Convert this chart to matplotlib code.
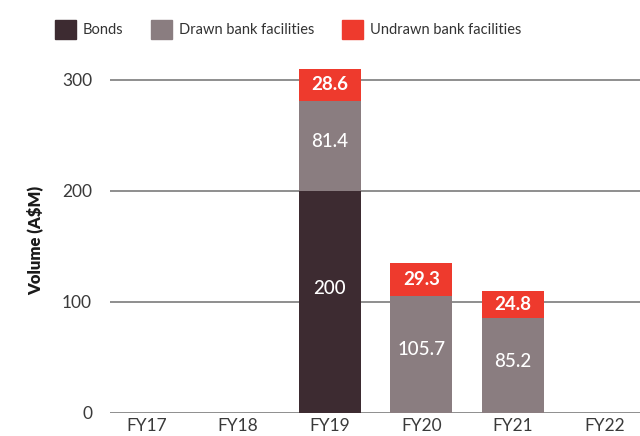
import matplotlib
matplotlib.use("Agg")
import matplotlib.pyplot as plt
import numpy as np
from matplotlib.patches import Patch

plt.rcParams['font.family'] = ['Lato', 'DejaVu Sans']

years = ["FY17", "FY18", "FY19", "FY20", "FY21", "FY22"]
bonds = [0, 0, 200, 0, 0, 0]
drawn = [0, 0, 81.4, 105.7, 85.2, 0]
undrawn = [0, 0, 28.6, 29.3, 24.8, 0]

c_bonds = "#3d2b31"
c_drawn = "#8a7d80"
c_undrawn = "#ee3a2d"

fig = plt.figure(figsize=(6.4, 4.36), dpi=100)
ax = fig.add_axes([0.172, 0.053, 0.828, 0.789])

x = np.arange(len(years))
w = 0.68
bonds = np.array(bonds)
drawn = np.array(drawn)
undrawn = np.array(undrawn)

ax.bar(x, bonds, w, color=c_bonds, zorder=3)
ax.bar(x, drawn, w, bottom=bonds, color=c_drawn, zorder=3)
ax.bar(x, undrawn, w, bottom=bonds + drawn, color=c_undrawn, zorder=3)

# value labels (sit a little above the middle of each block)
for i in range(len(years)):
    if bonds[i] > 0:
        ax.text(x[i], bonds[i] / 2 + 12, f"{bonds[i]:g}", ha="center", va="center",
                color="white", fontsize=13.5, fontweight="medium", zorder=4)
    if drawn[i] > 0:
        ax.text(x[i], bonds[i] + drawn[i] / 2 + 4, f"{drawn[i]:g}", ha="center", va="center",
                color="white", fontsize=13.5, fontweight="medium", zorder=4)
    if undrawn[i] > 0:
        ax.text(x[i], bonds[i] + drawn[i] + undrawn[i] / 2, f"{undrawn[i]:g}",
                ha="center", va="center", color="white", fontsize=13.5,
                fontweight="bold", zorder=4)

ax.set_xlim(-0.40, 5.39)
ax.set_ylim(0, 310)
ax.set_yticks([0, 100, 200, 300])
ax.set_xticks(x)
ax.set_xticklabels(years)
ax.yaxis.grid(True, color="#707070", linewidth=1.1, zorder=0)
for s in ax.spines.values():
    s.set_visible(False)
ax.tick_params(axis="both", length=0, labelsize=12.5, labelcolor="#3a3a3a")
ax.tick_params(axis="y", pad=13)
ax.tick_params(axis="x", pad=4)

ax.set_ylabel("Volume (A$M)", fontsize=12, fontweight="heavy", color="#1a1a1a", labelpad=13)

handles = [Patch(color=c_bonds, label="Bonds"),
           Patch(color=c_drawn, label="Drawn bank facilities"),
           Patch(color=c_undrawn, label="Undrawn bank facilities")]
fig.legend(handles=handles, loc="upper left", bbox_to_anchor=(0.066, 0.985), ncol=3,
           frameon=False, handlelength=1.4, handleheight=1.7, handletextpad=0.5,
           columnspacing=1.9, fontsize=10.5, labelcolor="#333333")

fig.savefig("out.png", dpi=100)
